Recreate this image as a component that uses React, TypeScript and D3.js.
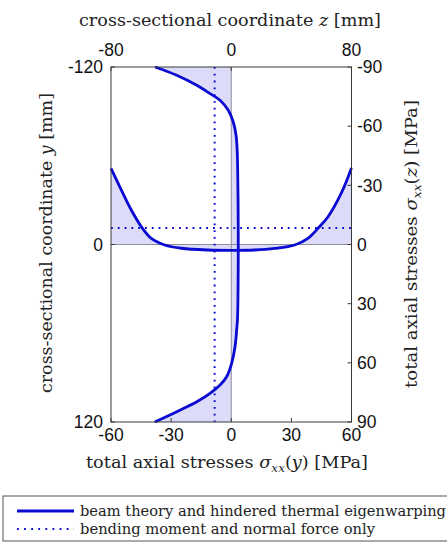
import React from "react";
import * as d3 from "d3";

// curve 1: sigma_xx(y) vs y  (bottom axis / left axis)
const yCoord = [-120, -114.4, -107.6, -102, -97.5, -90.7, -82.8, -73.8, -62.5, -51, -30, 0, 30, 51, 57.8, 69, 80.3, 89.4, 95, 100.6, 106.3, 113, 120];
const sigmaY = [-38, -27.2, -17.2, -10.6, -5.6, -1.5, 1.0, 2.4, 3.0, 3.2, 3.4, 3.5, 3.4, 3.1, 2.7, 1.9, 0.2, -2.3, -5.6, -10.6, -17.2, -27.2, -38.2];

// curve 2: sigma_xx(z) vs z (top axis / right axis)
const zCoord = [-80, -73.1, -66.5, -59.8, -53.2, -44.3, -33.2, -15.5, 0, 15.5, 28.9, 42.2, 51, 57.7, 64.4, 73.2, 80];
const sigmaZ = [-38.6, -27.6, -17.5, -9.0, -3.1, 0.25, 1.9, 2.8, 3.0, 2.8, 2.0, 0.25, -3.1, -8.2, -14.1, -26, -38.8];

// "bending moment and normal force only" (constant)
const sigmaBendY = -8.3;
const sigmaBendZ = -8.4;

const bottomTicks = [-60, -30, 0, 30, 60];
const topTicks = [-80, 0, 80];
const leftTicks = [-120, 0, 120];
const rightTicks = [-90, -60, -30, 0, 30, 60, 90];

const legendLabels = [
  "beam theory and hindered thermal eigenwarping",
  "bending moment and normal force only",
];

const W = 447;
const H = 542;
const L = 111, R = 351.5, T = 67, B = 422;

const BLUE = "#0a0ad2";
const FILL = "#dcdcf8";
const SANS = "'Liberation Sans', Arial, sans-serif";
const SERIF = "'DejaVu Serif', serif";

export default function App() {
  const x = d3.scaleLinear().domain([-60, 60]).range([L, R]);
  const y = d3.scaleLinear().domain([-120, 120]).range([T, B]);
  const z = d3.scaleLinear().domain([-80, 80]).range([L, R]);
  const sR = d3.scaleLinear().domain([-90, 90]).range([T, B]);

  const c1 = yCoord.map((v, i) => ({ y: v, s: sigmaY[i] }));
  const c2 = zCoord.map((v, i) => ({ z: v, s: sigmaZ[i] }));

  const cv = d3.curveCatmullRom.alpha(0.5);
  const line1 = d3.line<any>().x((d) => x(d.s)).y((d) => y(d.y)).curve(cv)(c1)!;
  const area1 = d3.area<any>().y((d) => y(d.y)).x0(x(0)).x1((d) => x(d.s)).curve(cv)(c1)!;
  const line2 = d3.line<any>().x((d) => z(d.z)).y((d) => sR(d.s)).curve(cv)(c2)!;
  const area2 = d3.area<any>().x((d) => z(d.z)).y0(sR(0)).y1((d) => sR(d.s)).curve(cv)(c2)!;

  const axisColor = "#3a3a3a";
  const tickLen = 4;
  const tickFs = 17.5;

  return (
    <svg width={W} height={H} style={{ position: "absolute", left: 0, top: 0, background: "#fff" }}>
      <rect x={0} y={0} width={W} height={H} fill="#fff" />
      {/* fills */}
      <path d={area1} fill={FILL} stroke="none" />
      <path d={area2} fill={FILL} stroke="none" />
      {/* zero lines */}
      <line x1={x(0)} x2={x(0)} y1={T} y2={B} stroke="#8e8e9e" strokeWidth={1} />
      <line x1={L} x2={R} y1={y(0)} y2={y(0)} stroke="#8e8e9e" strokeWidth={1} />
      {/* dotted lines */}
      <line x1={x(sigmaBendY)} x2={x(sigmaBendY)} y1={T} y2={B} stroke={BLUE} strokeWidth={2} strokeDasharray="1.8 5" />
      <line x1={L} x2={R} y1={sR(sigmaBendZ)} y2={sR(sigmaBendZ)} stroke={BLUE} strokeWidth={2} strokeDasharray="1.8 5" />
      {/* curves */}
      <path d={line1} fill="none" stroke={BLUE} strokeWidth={2.8} />
      <path d={line2} fill="none" stroke={BLUE} strokeWidth={2.8} />
      {/* box */}
      <rect x={L} y={T} width={R - L} height={B - T} fill="none" stroke={axisColor} strokeWidth={1} />
      {/* ticks */}
      {bottomTicks.map((t) => (
        <g key={"b" + t}>
          <line x1={x(t)} x2={x(t)} y1={B} y2={B - tickLen} stroke={axisColor} />
          <text x={x(t)} y={441} textAnchor="middle" fontFamily={SANS} fontSize={tickFs} fill="#111">{t}</text>
        </g>
      ))}
      {topTicks.map((t) => (
        <g key={"t" + t}>
          <line x1={z(t)} x2={z(t)} y1={T} y2={T + tickLen} stroke={axisColor} />
          <text x={z(t)} y={56} textAnchor="middle" fontFamily={SANS} fontSize={tickFs} fill="#111">{t}</text>
        </g>
      ))}
      {leftTicks.map((t) => (
        <g key={"l" + t}>
          <line x1={L} x2={L + tickLen} y1={y(t)} y2={y(t)} stroke={axisColor} />
          <text x={103} y={y(t)} dy="0.36em" textAnchor="end" fontFamily={SANS} fontSize={tickFs} fill="#111">{t}</text>
        </g>
      ))}
      {rightTicks.map((t) => (
        <g key={"r" + t}>
          <line x1={R} x2={R - tickLen} y1={sR(t)} y2={sR(t)} stroke={axisColor} />
          <text x={357} y={sR(t)} dy="0.36em" textAnchor="start" fontFamily={SANS} fontSize={tickFs} fill="#111">{t}</text>
        </g>
      ))}
      {/* axis titles */}
      <text x={230} y={26} textAnchor="middle" fontFamily={SERIF} fontSize={17} fill="#222" textLength={302} lengthAdjust="spacingAndGlyphs">
        cross-sectional coordinate <tspan fontStyle="italic">z</tspan> [mm]
      </text>
      <text x={227} y={468} textAnchor="middle" fontFamily={SERIF} fontSize={17} fill="#222" textLength={282} lengthAdjust="spacingAndGlyphs">
        total axial stresses <tspan fontStyle="italic">σ</tspan><tspan fontStyle="italic" fontSize={11.5} dy={4}>xx</tspan><tspan dy={-4}>(</tspan><tspan fontStyle="italic">y</tspan>) [MPa]
      </text>
      <text transform={`translate(52,243) rotate(-90)`} textAnchor="middle" fontFamily={SERIF} fontSize={17} fill="#222" textLength={300} lengthAdjust="spacingAndGlyphs">
        cross-sectional coordinate <tspan fontStyle="italic">y</tspan> [mm]
      </text>
      <text transform={`translate(417,244) rotate(-90)`} textAnchor="middle" fontFamily={SERIF} fontSize={17} fill="#222" textLength={288} lengthAdjust="spacingAndGlyphs">
        total axial stresses <tspan fontStyle="italic">σ</tspan><tspan fontStyle="italic" fontSize={11.5} dy={4}>xx</tspan><tspan dy={-4}>(</tspan><tspan fontStyle="italic">z</tspan>) [MPa]
      </text>
      {/* legend */}
      <rect x={3} y={496} width={470} height={45} fill="#fff" stroke="#555" strokeWidth={1} />
      <line x1={17} x2={74} y1={511} y2={511} stroke={BLUE} strokeWidth={2.8} />
      <text x={80} y={516} fontFamily={SERIF} fontSize={14.5} fill="#222" textLength={366} lengthAdjust="spacingAndGlyphs">{legendLabels[0]}</text>
      <line x1={17} x2={74} y1={529} y2={529} stroke={BLUE} strokeWidth={2} strokeDasharray="1.8 5.3" />
      <text x={80} y={534} fontFamily={SERIF} fontSize={14.5} fill="#222" textLength={295} lengthAdjust="spacingAndGlyphs">{legendLabels[1]}</text>
    </svg>
  );
}
